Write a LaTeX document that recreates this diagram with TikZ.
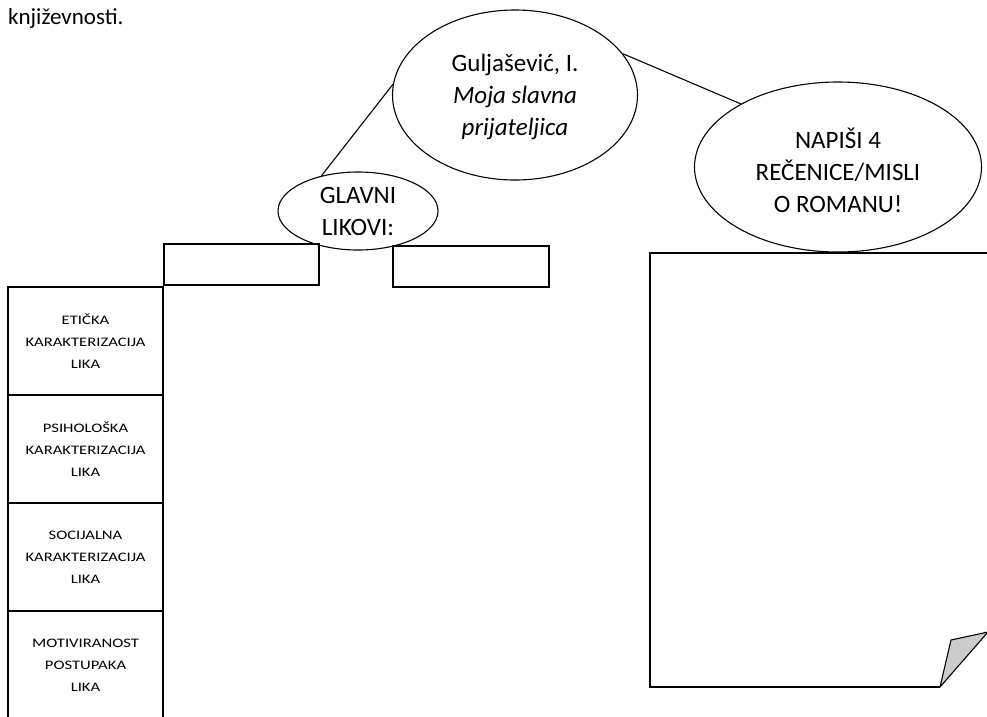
\documentclass[tikz,border=0pt]{standalone}
\usepackage{fontspec}
\setmainfont{Carlito}
\newfontfamily\colfont[FakeStretch=1.28]{Carlito}
\usetikzlibrary{shapes.geometric}
\tikzset{
  oval/.style={draw, ellipse, line width=1.1pt, inner sep=0pt},
  ovaltext/.style={align=center, font=\fontsize{25}{32}\selectfont, inner sep=0pt},
  blank/.style={draw, rectangle, line width=1.3pt, inner sep=0pt},
  cell/.style={draw, rectangle, line width=1.3pt, inner sep=0pt, minimum width=155pt, minimum height=108pt, align=center, font=\colfont\fontsize{13}{22}\selectfont},
  link/.style={line width=1.1pt},
}
\begin{document}
\begin{tikzpicture}[x=1pt,y=-1pt]
\useasboundingbox (0,0) rectangle (987,716);
\clip (0,0) rectangle (987,716);

\node[anchor=base west, inner sep=0pt, font=\fontsize{23}{28}\selectfont] (top) at (8,24) {književnosti.};

% ellipses
\node[oval, minimum width=245pt, minimum height=170pt] (gul) at (515,95) {};
\node[ovaltext] (gultext) at (515,97) {Guljašević, I.\\\textit{Moja slavna}\\\textit{prijateljica}};

\node[oval, minimum width=287pt, minimum height=170pt] (nap) at (838,167) {};
\node[ovaltext] (naptext) at (838,170) {NAPIŠI 4\\REČENICE/MISLI\\O ROMANU!};

\node[oval, minimum width=160pt, minimum height=78pt] (gl) at (358,211) {};
\node[ovaltext] (gltext) at (358,211) {GLAVNI\\LIKOVI:};

% connectors
\draw[link] (gl.136) -- (gul.175);
\draw[link] (gul.21) -- (nap.147);

% name boxes
\node[blank, minimum width=155pt, minimum height=41pt] (name1) at (241.5,264.5) {};
\node[blank, minimum width=156pt, minimum height=41pt] (name2) at (471,266.5) {};

% left column
\node[cell] (c1) at (85.5,341) {ETIČKA\\KARAKTERIZACIJA\\LIKA};
\node[cell] (c2) at (85.5,449) {PSIHOLOŠKA\\KARAKTERIZACIJA\\LIKA};
\node[cell] (c3) at (85.5,557) {SOCIJALNA\\KARAKTERIZACIJA\\LIKA};
\node[cell] (c4) at (85.5,665) {MOTIVIRANOST\\POSTUPAKA\\LIKA};

% paper with folded corner
\coordinate (ptr) at (992,253);
\coordinate (ptl) at (650,253);
\coordinate (pbl) at (650,687);
\coordinate (pbr) at (940,687);
\coordinate (pfr) at (988,632);
\coordinate (pfl) at (951,640);
\draw[line width=1.3pt, line join=miter] (ptr) -- (ptl) -- (pbl) -- (pbr);
\draw[line width=1.1pt, fill=gray!40, line join=round] (pbr) -- (pfl) -- (pfr) -- cycle;
\end{tikzpicture}
\end{document}
